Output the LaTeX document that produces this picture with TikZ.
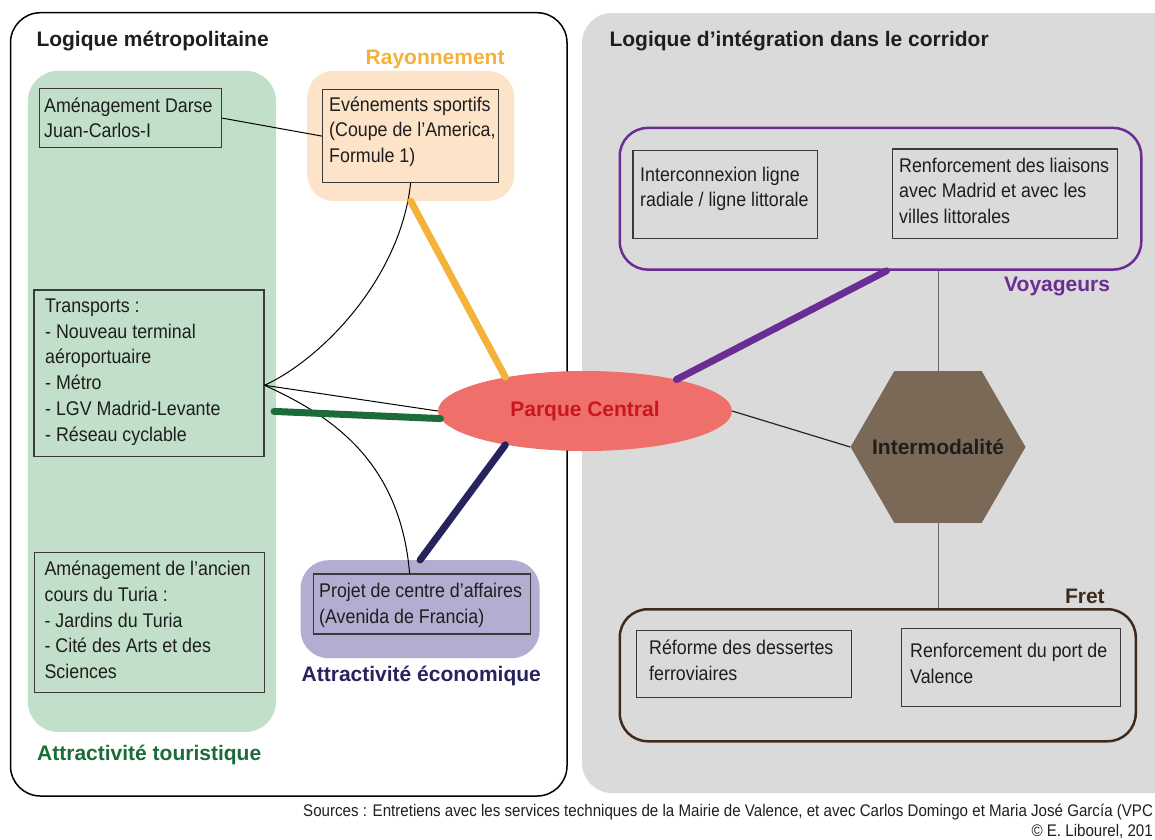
\documentclass[tikz,border=0pt]{standalone}
\usepackage{fontspec}
\setmainfont{Liberation Sans}
\newfontfamily\nar[FakeStretch=0.9]{Liberation Sans}
\usetikzlibrary{shapes.geometric,calc}
\definecolor{tourc}{HTML}{C2E0C9}
\definecolor{tourt}{HTML}{1D6B39}
\definecolor{rayc}{HTML}{FDE4C8}
\definecolor{rayl}{HTML}{F4B23A}
\definecolor{ecoc}{HTML}{B2AED1}
\definecolor{ecot}{HTML}{27235C}
\definecolor{voyc}{HTML}{6B2C93}
\definecolor{fretc}{HTML}{3F2B1D}
\definecolor{grayc}{HTML}{DBDADA}
\definecolor{pcfill}{HTML}{EF6F6B}
\definecolor{pctext}{HTML}{C8171F}
\definecolor{hexc}{HTML}{7A6957}
\definecolor{boxc}{HTML}{3A3A3A}
\definecolor{txtc}{HTML}{1E1E1E}
\begin{document}
\begin{tikzpicture}[x=1pt,y=-1pt,
  grp/.style={rectangle, rounded corners=30pt, inner sep=0pt, anchor=north west},
  ibox/.style={rectangle, draw=boxc, line width=1.2pt, inner sep=0pt, anchor=north west},
  bt/.style={font=\nar\fontsize{19.8}{25.7}\selectfont, align=left, anchor=north west, inner sep=0pt, text=txtc},
  ttl/.style={font=\bfseries\fontsize{21}{25}\selectfont, anchor=base west, inner sep=0pt},
  srcf/.style={font=\nar\fontsize{16.8}{20}\selectfont, inner sep=0pt, text=txtc},
  thinl/.style={line width=1pt, black},
  thickl/.style={line width=7pt, line cap=round}]
\useasboundingbox (0,0) rectangle (1155,839);

% frames
\draw[line width=1.5pt, black, rounded corners=30pt] (10.5,12.7) rectangle (567,796);
\fill[grayc, rounded corners=30pt] (582,13) rectangle (1185,793);

% titles
\node[ttl, text=txtc] (t1) at (36.3,46.7) {Logique métropolitaine};
\node[ttl, text=txtc] (t2) at (609.3,46.7) {Logique d’intégration dans le corridor};
\node[ttl, text=rayl] (t3) at (365.5,64) {Rayonnement};
\node[ttl, text=voyc] (t4) at (1004,291) {Voyageurs};
\node[ttl, text=fretc] (t5) at (1064.8,603.3) {Fret};
\node[ttl, text=ecot] (t6) at (301.5,681) {Attractivité économique};
\node[ttl, text=tourt] (t7) at (37,760.5) {Attractivité touristique};

% group boxes
\node[grp, fill=tourc, minimum width=248pt, minimum height=661pt] (tour) at (27.7,70.7) {};
\node[grp, fill=rayc, rounded corners=26pt, minimum width=207pt, minimum height=130pt] (ray) at (307,70.7) {};
\node[grp, fill=ecoc, rounded corners=28pt, minimum width=239pt, minimum height=98pt] (eco) at (300.4,560) {};
\node[grp, draw=voyc, line width=2.5pt, rounded corners=28pt, minimum width=521.5pt, minimum height=141.6pt] (voy) at (618.5,126.7) {};
\node[grp, draw=fretc, line width=2.5pt, rounded corners=28pt, minimum width=516pt, minimum height=132pt] (fret) at (618.5,608) {};

% inner boxes
\node[ibox, minimum width=182.5pt, minimum height=59pt] (darse) at (38.5,88) {};
\node[ibox, minimum width=176pt, minimum height=93pt] (ev) at (322,89) {};
\node[ibox, minimum width=230pt, minimum height=166.7pt] (trans) at (33.3,289.3) {};
\node[ibox, minimum width=229.8pt, minimum height=140pt] (turia) at (34,551.7) {};
\node[ibox, minimum width=217.2pt, minimum height=60pt] (proj) at (312.6,573.3) {};
\node[ibox, minimum width=184.1pt, minimum height=87.7pt] (inter) at (632.4,150) {};
\node[ibox, minimum width=225.3pt, minimum height=89.4pt] (liai) at (891.7,148.3) {};
\node[ibox, minimum width=214.6pt, minimum height=66.7pt] (refo) at (636,630) {};
\node[ibox, minimum width=219pt, minimum height=78pt] (port) at (901,627.7) {};

% texts
\node[bt] (tdarse) at (44,97.5) {Aménagement Darse\\Juan-Carlos-I};
\node[bt] (tev) at (329,96.5) {Evénements sportifs\\(Coupe de l’America,\\Formule 1)};
\node[bt] (ttrans) at (45,298.7) {Transports :\\- Nouveau terminal\\aéroportuaire\\- Métro\\- LGV Madrid-Levante\\- Réseau cyclable};
\node[bt] (tturia) at (44.4,561) {Aménagement de l’ancien\\cours du Turia :\\- Jardins du Turia\\- Cité des Arts et des\\Sciences};
\node[bt] (tproj) at (319,583) {Projet de centre d’affaires\\(Avenida de Francia)};
\node[bt] (tinter) at (640,166.5) {Interconnexion ligne\\radiale / ligne littorale};
\node[bt] (tliai) at (899,157.5) {Renforcement des liaisons\\avec Madrid et avec les\\villes littorales};
\node[bt] (trefo) at (649,640) {Réforme des dessertes\\ferroviaires};
\node[bt] (tport) at (910,643) {Renforcement du port de\\Valence};

% central nodes
\node[ellipse, fill=pcfill, inner sep=0pt, minimum width=294pt, minimum height=80pt,
  font=\bfseries\fontsize{21}{25}\selectfont, text=pctext] (pc) at (585,411) {Parque Central};
\node[regular polygon, regular polygon sides=6, fill=hexc, inner sep=0pt, minimum size=175pt,
  font=\bfseries\fontsize{21}{25}\selectfont, text=txtc] (hex) at (938,447) {\makebox[0pt]{Intermodalité}};

% thin connectors
\coordinate (tp) at ($(trans.east)+(0,12)$);
\coordinate (pj) at ($(proj.north west)+(97,0)$);
\draw[thinl] (darse.east) -- (ev.west);
\draw[thinl] (tp) .. controls (320,360) and (400,280) .. (ev.south);
\draw[thinl] (tp) -- (pc.west);
\draw[thinl] (tp) .. controls (330,415) and (400,460) .. (pj);
\draw[line width=1.2pt, black!85] (pc.east) -- (hex.west);
\draw[line width=1pt, black!60] (hex.north |- voy.south) -- (hex.north);
\draw[line width=1pt, black!60] (hex.south) -- (hex.south |- fret.north);

% thick connectors
\draw[thickl, rayl] (ray.south) -- (pc.157);
\draw[thickl, tourt] ($(tour.east)+(-2,10)$) -- (pc.183);
\draw[thickl, ecot] (eco.north) -- (pc.203);
\draw[thickl, voyc] (pc.19) -- ($(voy.south)+(6,0)$);

% sources
\node[srcf, anchor=base west] (src) at (303,816)
  {Sources : Entretiens avec les services techniques de la Mairie de Valence, et avec Carlos Domingo et Maria José García (VPC};
\node[srcf, anchor=base east] (cop) at (1153,836) {© E. Libourel, 201};
\end{tikzpicture}
\end{document}
